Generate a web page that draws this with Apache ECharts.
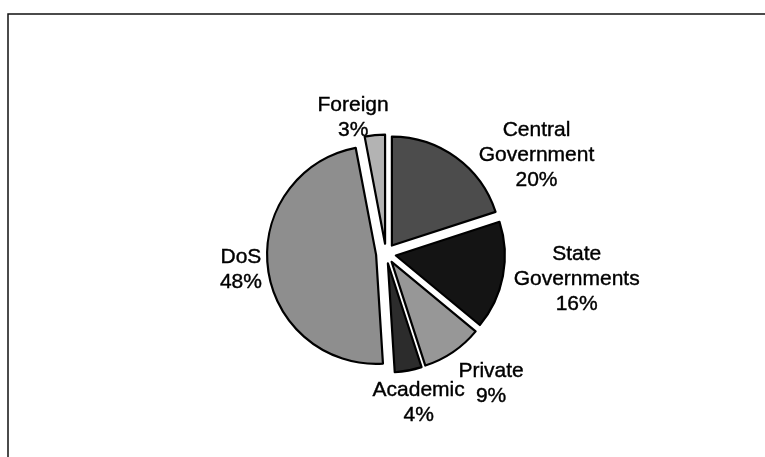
<!DOCTYPE html>
<html>
<head>
<meta charset="utf-8">
<style>
  html, body { margin: 0; padding: 0; background: #ffffff; }
  #chart { width: 765px; height: 457px; }
</style>
<script src="https://cdn.jsdelivr.net/npm/echarts@6/dist/echarts.min.js"></script>
</head>
<body>
<div id="chart"></div>
<script>
// ---- data ----
var categories = ['Central\nGovernment', 'State\nGovernments', 'Private', 'Academic', 'DoS', 'Foreign'];
var shares = [20, 16, 9, 4, 48, 3];

// ---- styling (kept apart from the data) ----
var sliceColors = ['#4c4c4c', '#141414', '#979797', '#2c2c2c', '#8e8e8e', '#b3b3b3'];
// label placement tweaks: [lineLength, lineLength2, align, verticalAlign, dy]
var labelTweaks = [
  [3, 21, 'left', 'middle', 0],
  [16, -5, 'left', 'middle', 0],
  [8, 1, 'left', 'top', 0],
  [7, 9, 'center', 'top', 0],
  [0, 6, 'right', 'top', -24],
  [18, 20, 'center', 'middle', 0]
];

var chart = echarts.init(document.getElementById('chart'), null, { renderer: 'canvas' });

var seriesData = categories.map(function (name, i) {
  return {
    name: name,
    value: shares[i],
    selected: true,
    itemStyle: { color: sliceColors[i] },
    labelLine: { show: false, length: labelTweaks[i][0], length2: labelTweaks[i][1] }
  };
});

var labelFont = 'Liberation Sans, Arial, sans-serif';

chart.setOption({
  animation: false,
  backgroundColor: '#ffffff',
  graphic: [{
    type: 'polyline',
    shape: { points: [[8, 460], [8, 14], [770, 14]] },
    style: { stroke: '#111', lineWidth: 1.5, fill: null },
    silent: true
  }],
  series: [{
    type: 'pie',
    center: ['50.46%', '55.5%'],
    radius: 109,
    startAngle: 90,
    clockwise: true,
    selectedMode: 'multiple',
    selectedOffset: 10,
    avoidLabelOverlap: false,
    emphasis: { disabled: true },
    itemStyle: { borderColor: '#000', borderWidth: 2.2 },
    label: {
      show: true,
      position: 'outside',
      distanceToLabelLine: 0,
      color: '#000',
      fontFamily: labelFont,
      fontSize: 21,
      lineHeight: 25,
      formatter: '{t|{b}}\n{t|{c}%}',
      rich: {
        t: {
          align: 'center', fontSize: 21, lineHeight: 25, color: '#000',
          fontFamily: labelFont, textBorderColor: '#000', textBorderWidth: 0.4
        }
      }
    },
    labelLayout: function (params) {
      var tw = labelTweaks[params.dataIndex];
      return { align: tw[2], verticalAlign: tw[3], dy: tw[4] };
    },
    data: seriesData
  }]
});
</script>
</body>
</html>
